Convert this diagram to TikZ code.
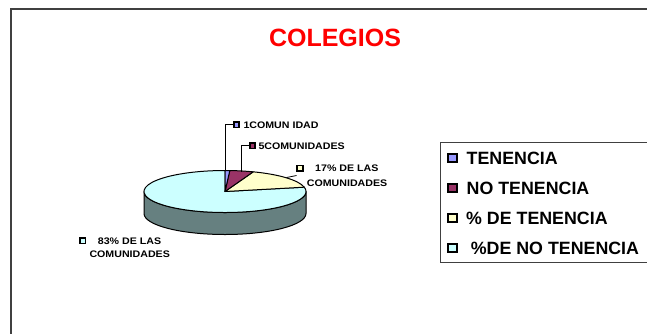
\documentclass[tikz,border=0pt]{standalone}
\usepackage{fontspec}
\setmainfont{Liberation Sans}
\newfontfamily\lblfont{Liberation Sans}[FakeStretch=1.12]
\usetikzlibrary{calc}
\definecolor{cBlue}{HTML}{9999FF}
\definecolor{cMaroon}{HTML}{993366}
\definecolor{cYellow}{HTML}{FFFFCC}
\definecolor{cCyan}{HTML}{CCFFFF}
\definecolor{cSide}{HTML}{668080}
\definecolor{cFrame}{HTML}{404040}
\tikzset{
  slice/.style={draw=black, line width=1pt, line join=round},
  pie/.style={x radius=81pt, y radius=21pt},
  lblsq/.style={draw=black, line width=1.6pt, inner sep=0pt, minimum size=5.5pt},
  legsq/.style={draw=black, line width=1.8pt, inner sep=0pt, minimum size=8.5pt},
  lbltxt/.style={inner sep=0pt, anchor=base west, font=\lblfont\bfseries\fontsize{9.5}{11}\selectfont},
  legtxt/.style={inner sep=0pt, anchor=base west, font=\bfseries\fontsize{17.8}{20}\selectfont},
  leader/.style={draw=black, line width=0.8pt}
}
\begin{document}
\begin{tikzpicture}[x=1pt,y=1pt]
\useasboundingbox (0,0) rectangle (647,-333);
\clip (0,0) rectangle (647,-333);
\fill[white] (0,0) rectangle (647,-333);
% outer frame
\draw[cFrame, line width=2pt] (11,-9) rectangle (700,-400);
% title
\node[inner sep=0pt, anchor=base, text=red, font=\bfseries\fontsize{25}{28}\selectfont] (title) at (335,-46) {COLEGIOS};
% pie
\coordinate (c) at (225,-191.5);
\filldraw[slice, fill=cSide] ($(c)+(81,0)$) -- ++(0,-22) arc[start angle=0, end angle=-180, pie] -- ++(0,22) arc[start angle=180, end angle=360, pie] -- cycle;
\filldraw[slice, fill=cCyan] (c) -- ++(11.9:81pt and 21pt) arc[start angle=11.9, end angle=-270, pie] -- cycle;
\filldraw[slice, fill=cYellow] (c) -- ++(69.6:81pt and 21pt) arc[start angle=69.6, end angle=11.9, pie] -- cycle;
\filldraw[slice, fill=cMaroon] (c) -- ++(86.6:81pt and 21pt) arc[start angle=86.6, end angle=69.6, pie] -- cycle;
\filldraw[slice, fill=cBlue] (c) -- ++(90:81pt and 21pt) arc[start angle=90, end angle=86.6, pie] -- cycle;
% data labels
\coordinate (pb) at (225.7,-171);
\coordinate (pm) at (241,-171.5);
\coordinate (py) at (286.5,-177.5);
\coordinate (pyend) at (296.5,-175.5);
\node[lblsq, fill=cBlue] (sq1) at (236.5,-124.7) {};
\node[lbltxt] (t1) at (243.3,-128.1) {1COMUN IDAD};
\node[lblsq, fill=cMaroon] (sq2) at (252.5,-145.7) {};
\node[lbltxt] (t2) at (258.3,-149.1) {5COMUNIDADES};
\node[lblsq, fill=cYellow] (sq3) at (300,-168.3) {};
\node[lbltxt] (t3a) at (315,-171.7) {17\% DE LAS};
\node[lbltxt] (t3b) at (306.7,-186.1) {COMUNIDADES};
\node[lblsq, fill=cCyan] (sq4) at (82.7,-240.7) {};
\node[lbltxt] (t4a) at (97.7,-244.1) {83\% DE LAS};
\node[lbltxt] (t4b) at (89.3,-257.7) {COMUNIDADES};
\draw[leader] (pb) |- (sq1.west);
\draw[leader] (pm) |- (sq2.west);
\draw[leader] (py) -- (pyend);
% legend
\draw[cFrame, line width=1pt, fill=white] (440.5,-142.5) rectangle (700,-262.5);
\node[legsq, fill=cBlue] (l1) at (452.5,-158) {};
\node[legtxt] (lt1) at (466.5,-164.4) {TENENCIA};
\node[legsq, fill=cMaroon] (l2) at (452.5,-188) {};
\node[legtxt] (lt2) at (466.5,-194.4) {NO TENENCIA};
\node[legsq, fill=cYellow] (l3) at (452.5,-218) {};
\node[legtxt] (lt3) at (466,-224.4) {\% DE TENENCIA};
\node[legsq, fill=cCyan] (l4) at (452.5,-248) {};
\node[legtxt] (lt4) at (470.7,-254.4) {\%DE NO TENENCIA};
\end{tikzpicture}
\end{document}
